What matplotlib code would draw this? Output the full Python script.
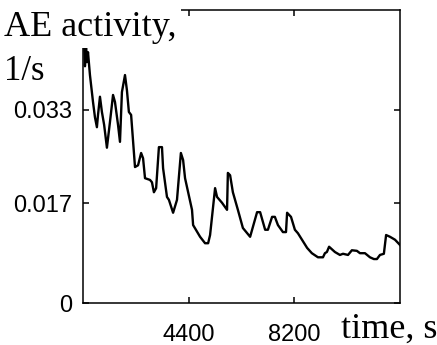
import numpy as np
import matplotlib
matplotlib.use("Agg")
import matplotlib.pyplot as plt

# AE activity vs time
time_s = [640, 670, 710, 740, 780, 850, 960, 1030, 1100, 1140,
          1210, 1280, 1360, 1460, 1570, 1680, 1750, 1860, 1930, 2000,
          2110, 2180, 2250, 2330, 2470, 2580, 2690, 2760, 2830, 3010,
          3080, 3150, 3230, 3330, 3440, 3480, 3620, 3690, 3840, 3980,
          4120, 4200, 4270, 4520, 4560, 4810, 4990, 5100, 5170, 5350,
          5420, 5600, 5780, 5810, 5890, 5990, 6170, 6350, 6610, 6860,
          6970, 7150, 7250, 7400, 7500, 7610, 7790, 7900, 7940, 8080,
          8220, 8330, 8660, 8830, 9050, 9230, 9300, 9370, 9450, 9660,
          9840, 9950, 10130, 10270, 10450, 10560, 10740, 10920, 11060, 11170,
          11280, 11420, 11500, 11640, 11820, 12000]
activity = [0.0444, 0.0404, 0.0442, 0.0411, 0.0428, 0.0389, 0.0343, 0.0317, 0.0300, 0.0321,
            0.0352, 0.0326, 0.0304, 0.0265, 0.0309, 0.0355, 0.0343, 0.0304, 0.0275, 0.0360,
            0.0389, 0.0363, 0.0326, 0.0321, 0.0232, 0.0235, 0.0256, 0.0247, 0.0213, 0.0210,
            0.0206, 0.0189, 0.0196, 0.0266, 0.0266, 0.0230, 0.0181, 0.0176, 0.0154, 0.0176,
            0.0256, 0.0244, 0.0213, 0.0159, 0.0133, 0.0113, 0.0102, 0.0102, 0.0116, 0.0196,
            0.0181, 0.0171, 0.0159, 0.0222, 0.0218, 0.0189, 0.0159, 0.0128, 0.0113, 0.0155,
            0.0155, 0.0125, 0.0125, 0.0147, 0.0147, 0.0133, 0.0121, 0.0121, 0.0154, 0.0147,
            0.0125, 0.0119, 0.0094, 0.0085, 0.0078, 0.0078, 0.0085, 0.0087, 0.0096, 0.0087,
            0.0082, 0.0084, 0.0082, 0.0090, 0.0089, 0.0085, 0.0085, 0.0078, 0.0075, 0.0075,
            0.0082, 0.0084, 0.0116, 0.0113, 0.0108, 0.0099]

x_ticks = [4400, 8200]
y_ticks = [0, 0.017, 0.033]
y_tick_labels = ["0", "0.017", "0.033"]

fig = plt.figure(figsize=(4.37, 3.45), dpi=100)
ax = fig.add_axes([83 / 437, 42 / 345, 317 / 437, 293 / 345])

ax.plot(time_s, activity, color="black", linewidth=1.7)
ax.set_xlim(600, 12000)
ax.set_ylim(0, 0.05)

ax.set_xticks(x_ticks)
ax.set_xticklabels([str(t) for t in x_ticks])
ax.set_yticks(y_ticks)
ax.set_yticklabels(y_tick_labels)

for s in ax.spines.values():
    s.set_linewidth(1.1)
ax.tick_params(direction="in", top=True, right=True, length=4, width=1.1,
               labelsize=17)
ax.tick_params(axis="x", pad=15)
ax.tick_params(axis="y", pad=8)
for lab in ax.get_xticklabels() + ax.get_yticklabels():
    lab.set_fontfamily("Liberation Sans")

# axis titles in a serif face, the top one hides the corner of the frame
fig.text(4 / 437, 1 - 36 / 345, "AE activity,", family="Liberation Serif",
         fontsize=26, va="baseline", ha="left",
         bbox=dict(facecolor="white", edgecolor="none", pad=3), zorder=10)
fig.text(4 / 437, 1 - 80 / 345, "1/s", family="Liberation Serif",
         fontsize=25, va="baseline", ha="left")
fig.text(437 / 437, 1 - 338 / 345, "time, s", family="Liberation Serif",
         fontsize=26, va="baseline", ha="right")

fig.savefig("out.png", dpi=100)
